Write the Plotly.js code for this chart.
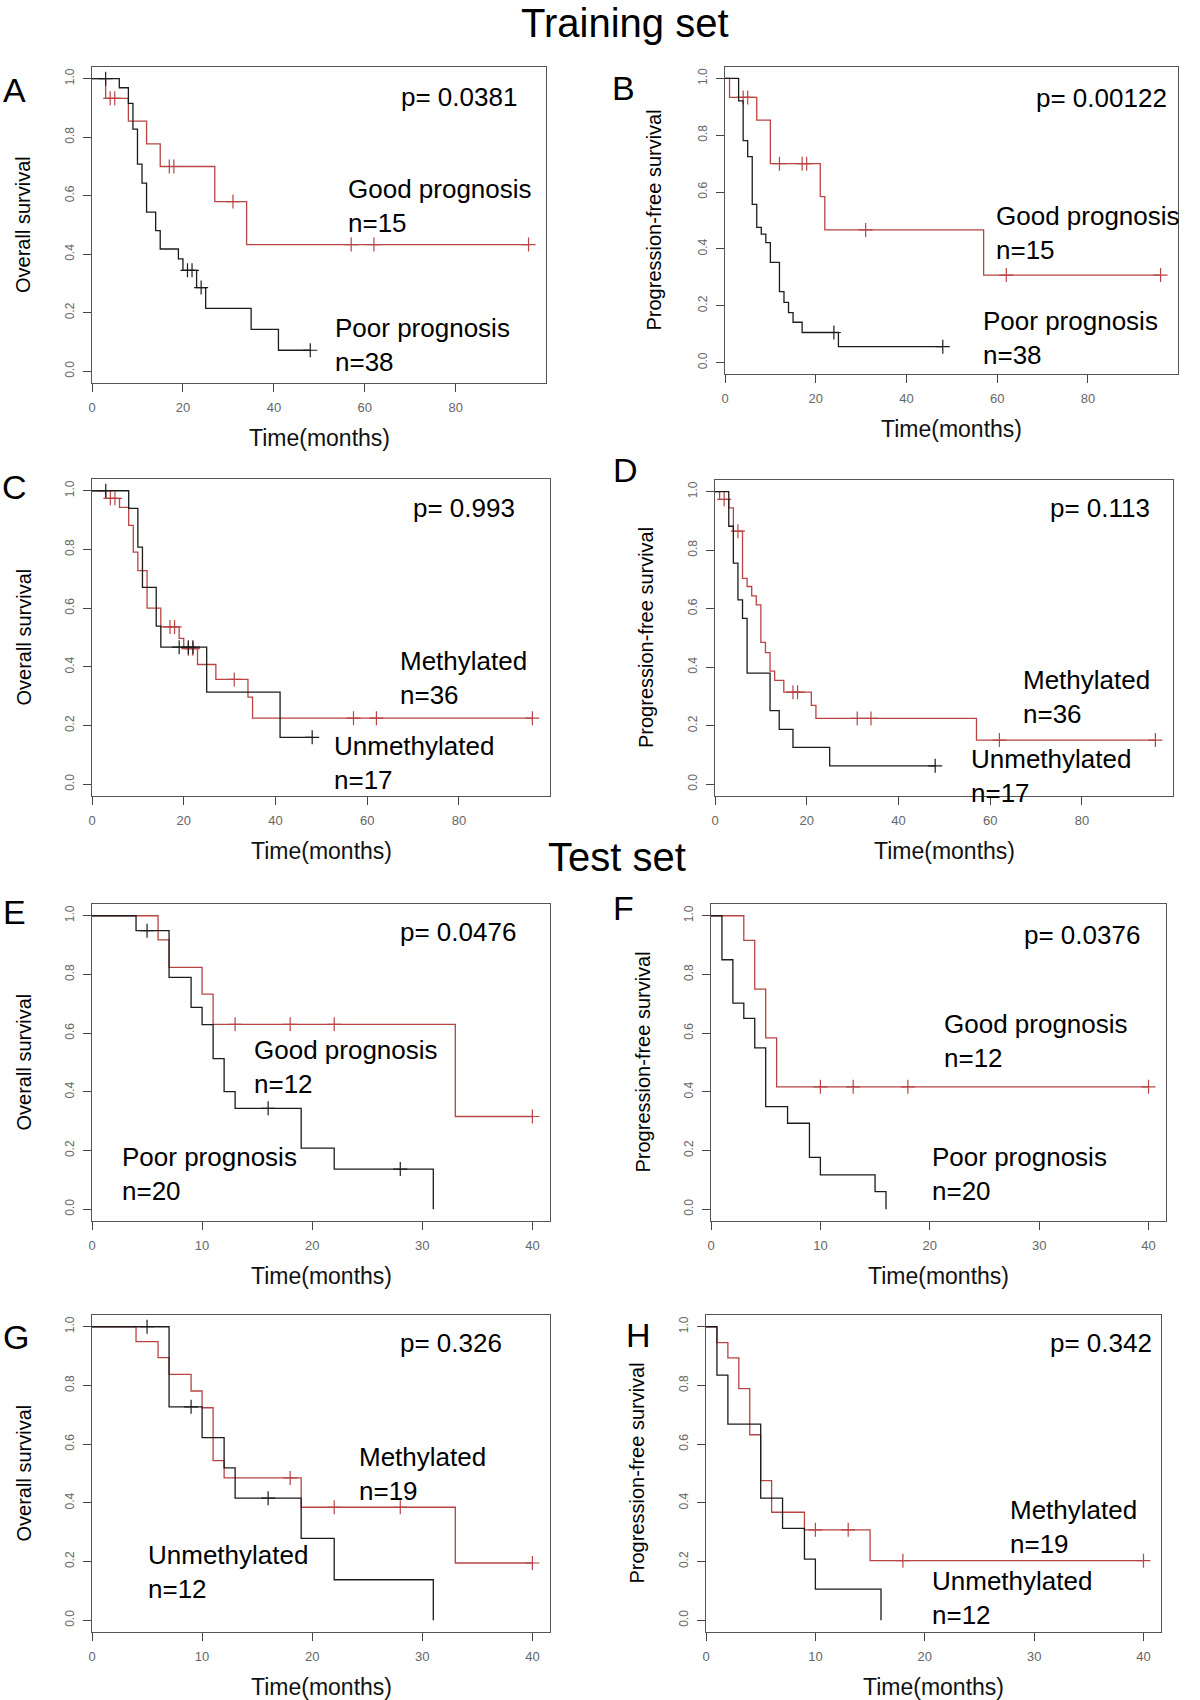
<!DOCTYPE html>
<html>
<head>
<meta charset="utf-8">
<script src="https://cdn.plot.ly/plotly-3.0.1.min.js"></script>
<style>body{margin:0;background:#fff}#chart{width:1200px;height:1700px}</style>
</head>
<body>
<div id="chart"></div>
<script>
// ---------------- DATA ----------------
// Each curve: event times (months), survival after each event, censoring times
const A_goodTimes = [3, 8, 12, 15, 27, 34];
const A_goodSurv  = [0.933, 0.855, 0.777, 0.70, 0.58, 0.433];
const A_goodCens  = [4, 5, 17, 18, 31, 57, 62, 96];
const A_poorTimes = [6, 8, 9, 10, 11, 12, 14, 15, 19, 20, 23, 25, 35, 41];
const A_poorSurv  = [0.969, 0.916, 0.828, 0.708, 0.643, 0.544, 0.481, 0.418, 0.384, 0.345, 0.286, 0.215, 0.143, 0.072];
const A_poorCens  = [3, 21, 22, 24, 48];

const B_goodTimes = [1, 7, 10, 21, 22, 57];
const B_goodSurv  = [0.933, 0.853, 0.70, 0.584, 0.467, 0.308];
const B_goodCens  = [4, 5, 12, 17, 18, 31, 62, 96];
const B_poorTimes = [3, 4, 5, 6, 7, 8, 9, 10, 12, 13, 14, 15, 17, 25];
const B_poorSurv  = [0.921, 0.781, 0.725, 0.557, 0.476, 0.452, 0.422, 0.353, 0.25, 0.212, 0.176, 0.142, 0.106, 0.056];
const B_poorCens  = [24, 48];

const C_methTimes = [3, 6, 8, 9, 10, 12, 15, 19, 20, 23, 27, 34, 35];
const C_methSurv  = [0.974, 0.943, 0.882, 0.791, 0.728, 0.60, 0.536, 0.497, 0.462, 0.408, 0.357, 0.297, 0.225];
const C_methCens  = [4, 5, 17, 18, 21, 22, 31, 57, 62, 96];
const C_unmethTimes = [8, 10, 11, 14, 15, 25, 41];
const C_unmethSurv  = [0.94, 0.808, 0.671, 0.539, 0.467, 0.314, 0.16];
const C_unmethCens  = [3, 19, 21, 22, 48];

const D_methTimes = [1, 3, 4, 6, 7, 8, 9, 10, 11, 12, 13, 15, 21, 22, 57];
const D_methSurv  = [0.974, 0.945, 0.865, 0.704, 0.676, 0.644, 0.613, 0.485, 0.45, 0.387, 0.355, 0.315, 0.27, 0.225, 0.151];
const D_methCens  = [2, 5, 17, 18, 31, 34, 62, 96];
const D_unmethTimes = [3, 4, 5, 6, 7, 12, 14, 17, 25];
const D_unmethSurv  = [0.882, 0.756, 0.63, 0.567, 0.38, 0.252, 0.188, 0.126, 0.063];
const D_unmethCens  = [48];

const E_goodTimes = [6, 7, 10, 11, 33];
const E_goodSurv  = [0.918, 0.824, 0.733, 0.63, 0.316];
const E_goodCens  = [13, 18, 22, 40];
const E_poorTimes = [4, 7, 9, 10, 11, 12, 13, 19, 22, 31];
const E_poorSurv  = [0.949, 0.79, 0.688, 0.629, 0.513, 0.401, 0.344, 0.208, 0.137, 0];
const E_poorCens  = [5, 16, 28];

const F_goodTimes = [3, 4, 5, 6];
const F_goodSurv  = [0.916, 0.75, 0.584, 0.417];
const F_goodCens  = [10, 13, 18, 40];
const F_poorTimes = [1, 2, 3, 4, 5, 7, 9, 10, 15, 16];
const F_poorSurv  = [0.85, 0.702, 0.65, 0.55, 0.35, 0.293, 0.177, 0.117, 0.06, 0];
const F_poorCens  = [];

const G_methTimes = [4, 6, 7, 9, 10, 11, 12, 19, 33];
const G_methSurv  = [0.949, 0.895, 0.838, 0.781, 0.724, 0.544, 0.485, 0.385, 0.195];
const G_methCens  = [18, 22, 28, 40];
const G_unmethTimes = [7, 10, 12, 13, 19, 22, 31];
const G_unmethSurv  = [0.727, 0.622, 0.519, 0.416, 0.279, 0.138, 0];
const G_unmethCens  = [5, 9, 16];

const H_methTimes = [1, 2, 3, 4, 5, 6, 9, 15];
const H_methSurv  = [0.946, 0.894, 0.789, 0.632, 0.476, 0.368, 0.308, 0.203];
const H_methCens  = [10, 13, 18, 40];
const H_unmethTimes = [1, 2, 5, 7, 9, 10, 16];
const H_unmethSurv  = [0.835, 0.668, 0.416, 0.313, 0.208, 0.106, 0];
const H_unmethCens  = [];

// Texts
const panelLetters = ['A', 'B', 'C', 'D', 'E', 'F', 'G', 'H'];
const pValues = ['p= 0.0381', 'p= 0.00122', 'p= 0.993', 'p= 0.113', 'p= 0.0476', 'p= 0.0376', 'p= 0.326', 'p= 0.342'];
const redLabels = ['Good prognosis<br>n=15', 'Good prognosis<br>n=15', 'Methylated<br>n=36', 'Methylated<br>n=36',
                   'Good prognosis<br>n=12', 'Good prognosis<br>n=12', 'Methylated<br>n=19', 'Methylated<br>n=19'];
const blackLabels = ['Poor prognosis<br>n=38', 'Poor prognosis<br>n=38', 'Unmethylated<br>n=17', 'Unmethylated<br>n=17',
                     'Poor prognosis<br>n=20', 'Poor prognosis<br>n=20', 'Unmethylated<br>n=12', 'Unmethylated<br>n=12'];
const yTitles = ['Overall survival', 'Progression-free survival', 'Overall survival', 'Progression-free survival',
                 'Overall survival', 'Progression-free survival', 'Overall survival', 'Progression-free survival'];
const xTitle = 'Time(months)';
const sectionTitles = ['Training set', 'Test set'];
const xTicks96 = [0, 20, 40, 60, 80];
const xTicks40 = [0, 10, 20, 30, 40];
const yTicks = [0, 0.2, 0.4, 0.6, 0.8, 1.0];
const yTickText = ['0.0', '0.2', '0.4', '0.6', '0.8', '1.0'];

const curves = [
  {red: [A_goodTimes, A_goodSurv, A_goodCens], black: [A_poorTimes, A_poorSurv, A_poorCens], xmax: 96, xt: xTicks96},
  {red: [B_goodTimes, B_goodSurv, B_goodCens], black: [B_poorTimes, B_poorSurv, B_poorCens], xmax: 96, xt: xTicks96},
  {red: [C_methTimes, C_methSurv, C_methCens], black: [C_unmethTimes, C_unmethSurv, C_unmethCens], xmax: 96, xt: xTicks96},
  {red: [D_methTimes, D_methSurv, D_methCens], black: [D_unmethTimes, D_unmethSurv, D_unmethCens], xmax: 96, xt: xTicks96},
  {red: [E_goodTimes, E_goodSurv, E_goodCens], black: [E_poorTimes, E_poorSurv, E_poorCens], xmax: 40, xt: xTicks40},
  {red: [F_goodTimes, F_goodSurv, F_goodCens], black: [F_poorTimes, F_poorSurv, F_poorCens], xmax: 40, xt: xTicks40},
  {red: [G_methTimes, G_methSurv, G_methCens], black: [G_unmethTimes, G_unmethSurv, G_unmethCens], xmax: 40, xt: xTicks40},
  {red: [H_methTimes, H_methSurv, H_methCens], black: [H_unmethTimes, H_unmethSurv, H_unmethCens], xmax: 40, xt: xTicks40}
];

// ---------------- LAYOUT (pixel geometry) ----------------
const W = 1200, H = 1700;
const boxes = [ // [left, right, top, bottom] in px
  [92, 546, 67, 383], [725, 1178, 67, 374],
  [92, 550, 479, 796], [715, 1173, 480, 796],
  [92, 550, 904, 1221], [711, 1166, 904, 1221],
  [92, 550, 1315, 1632], [706, 1161, 1315, 1632]
];
const letterPos = [[14, 90], [623, 88], [14, 487], [625, 470], [14, 912], [623, 908], [16, 1337], [638, 1335]];
const yTitleX = [23, 654, 23, 646, 23, 642, 23, 636];
// text positions in data coordinates [x, y]
const pPos = [[67.5, 0.937], [68.2, 0.93], [69.5, 0.942], [72.5, 0.945], [27.8, 0.943], [28.4, 0.935], [27.8, 0.943], [31.3, 0.943]];
const redPos = [[55.9, 0.565], [59.3, 0.456], [66.6, 0.362], [66.7, 0.30], [14.5, 0.483], [21.1, 0.572], [24.1, 0.50], [27.6, 0.319]];
const blackPos = [[53.1, 0.089], [56.5, 0.086], [52.3, 0.074], [55.3, 0.029], [2.56, 0.12], [20.0, 0.12], [4.93, 0.166], [20.5, 0.075]];

const RED = '#b84444', BLACK = '#1c1c1c';
const px = x => x / W, py = y => 1 - y / H;

function survAt(times, surv, t) {
  let s = 1;
  for (let i = 0; i < times.length; i++) { if (times[i] <= t) s = surv[i]; }
  return s;
}

const traces = [];
const layout = {
  width: W, height: H, margin: {l: 0, r: 0, t: 0, b: 0},
  paper_bgcolor: '#fff', plot_bgcolor: '#fff', showlegend: false,
  font: {family: 'Liberation Sans, Arial, sans-serif', color: '#000'},
  annotations: []
};

curves.forEach((c, i) => {
  const n = i === 0 ? '' : String(i + 1);
  const xa = 'x' + n, ya = 'y' + n;
  [[c.red, RED], [c.black, BLACK]].forEach(([d, col]) => {
    const [times, surv, cens] = d;
    const xs = [0].concat(times), ys = [1].concat(surv);
    const lastT = Math.max(times.length ? times[times.length - 1] : 0, cens.length ? Math.max(...cens) : 0);
    if (lastT > xs[xs.length - 1]) { xs.push(lastT); ys.push(ys[ys.length - 1]); }
    traces.push({type: 'scatter', mode: 'lines', x: xs, y: ys, xaxis: xa, yaxis: ya,
      line: {shape: 'hv', color: col, width: 1.3}, hoverinfo: 'skip'});
    if (cens.length) {
      traces.push({type: 'scatter', mode: 'markers', x: cens, y: cens.map(t => survAt(times, surv, t)),
        xaxis: xa, yaxis: ya,
        marker: {symbol: 'cross-thin-open', size: 10, color: col, line: {width: 1.2, color: col}}, hoverinfo: 'skip'});
    }
  });

  const b = boxes[i];
  const axKey = 'xaxis' + n, ayKey = 'yaxis' + n;
  layout[axKey] = {
    domain: [px(b[0]), px(b[1])], range: [0, c.xmax * 1.04], anchor: ya,
    tickvals: c.xt, ticks: 'outside', ticklen: 8, tickcolor: '#444', tickwidth: 1,
    showline: true, mirror: true, linecolor: '#555', linewidth: 1,
    showgrid: false, zeroline: false, ticklabelstandoff: 4,
    tickfont: {family: 'Liberation Sans, Arial, sans-serif', size: 13, color: '#666'}
  };
  layout[ayKey] = {
    domain: [py(b[3]), py(b[2])], range: [-0.04, 1.04], anchor: xa,
    tickvals: yTicks, ticktext: yTickText, tickangle: -90,
    ticks: 'outside', ticklen: 8, tickcolor: '#444', tickwidth: 1,
    showline: true, mirror: true, linecolor: '#555', linewidth: 1,
    showgrid: false, zeroline: false, ticklabelstandoff: 4,
    tickfont: {family: 'Liberation Sans, Arial, sans-serif', size: 12, color: '#666'}
  };

  const txtFont = {family: 'Liberation Sans, Arial, sans-serif', size: 26, color: '#000'};
  layout.annotations.push(
    {xref: xa, yref: ya, x: pPos[i][0], y: pPos[i][1], text: pValues[i], showarrow: false,
     xanchor: 'left', yanchor: 'middle', font: txtFont},
    {xref: xa, yref: ya, x: redPos[i][0], y: redPos[i][1], text: redLabels[i], showarrow: false,
     xanchor: 'left', yanchor: 'middle', align: 'left', font: txtFont},
    {xref: xa, yref: ya, x: blackPos[i][0], y: blackPos[i][1], text: blackLabels[i], showarrow: false,
     xanchor: 'left', yanchor: 'middle', align: 'left', font: txtFont},
    {xref: 'paper', yref: 'paper', x: px(letterPos[i][0]), y: py(letterPos[i][1]), text: panelLetters[i],
     showarrow: false, xanchor: 'center', yanchor: 'middle', font: {family: 'Liberation Sans, Arial, sans-serif', size: 34, color: '#000'}},
    {xref: 'paper', yref: 'paper', x: px(yTitleX[i]), y: py((b[2] + b[3]) / 2), text: yTitles[i], textangle: -90,
     showarrow: false, xanchor: 'center', yanchor: 'middle', font: {family: 'Liberation Sans, Arial, sans-serif', size: 20, color: '#000'}},
    {xref: 'paper', yref: 'paper', x: px((b[0] + b[1]) / 2), y: py(b[3] + 55), text: xTitle,
     showarrow: false, xanchor: 'center', yanchor: 'middle', font: {family: 'Liberation Sans, Arial, sans-serif', size: 23, color: '#111'}}
  );
});

layout.annotations.push(
  {xref: 'paper', yref: 'paper', x: px(625), y: 1, text: sectionTitles[0], showarrow: false, borderpad: 0,
   xanchor: 'center', yanchor: 'top', font: {family: 'Liberation Sans, Arial, sans-serif', size: 40, color: '#000'}},
  {xref: 'paper', yref: 'paper', x: px(617), y: py(857), text: sectionTitles[1], showarrow: false,
   xanchor: 'center', yanchor: 'middle', font: {family: 'Liberation Sans, Arial, sans-serif', size: 40, color: '#000'}}
);

Plotly.newPlot('chart', traces, layout, {staticPlot: true, displayModeBar: false});
</script>
</body>
</html>
